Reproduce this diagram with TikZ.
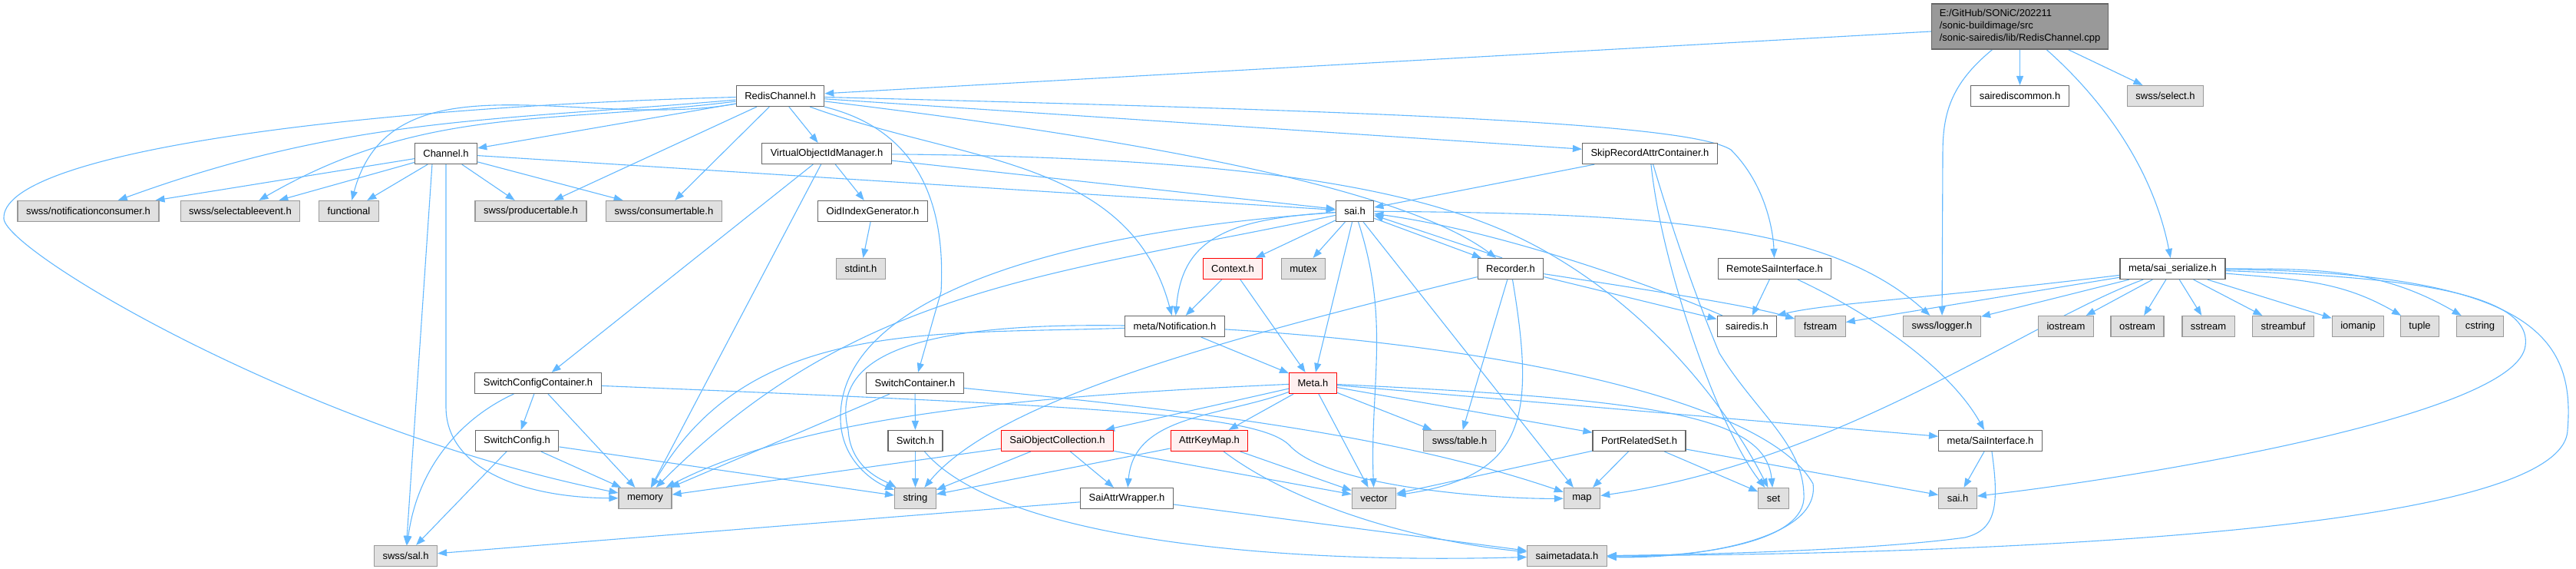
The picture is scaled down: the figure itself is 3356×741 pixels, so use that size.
\documentclass[tikz,border=0pt]{standalone}
\usepackage{fontspec}
\setmainfont{Liberation Sans}
\usepackage{tikz}
\usetikzlibrary{arrows.meta, backgrounds}
\definecolor{dxblue}{HTML}{63B8FF}
\definecolor{dxline}{HTML}{666666}
\definecolor{dxsys}{HTML}{E0E0E0}
\definecolor{dxsysline}{HTML}{999999}
\definecolor{dxroot}{HTML}{999999}
\definecolor{dxcut}{HTML}{FFF0F0}

\begin{document}
\begin{tikzpicture}[x=1pt, y=1pt, font=\fontsize{13}{16}\selectfont,
    hfile/.style={draw=dxline, fill=white, line width=1.2pt, inner xsep=11pt, inner ysep=0pt, minimum height=27pt},
    sysfile/.style={hfile, draw=dxsysline, fill=dxsys},
    cutfile/.style={hfile, draw=red, fill=dxcut},
    rootfile/.style={hfile, fill=dxroot, align=left, inner xsep=10pt, minimum height=59pt},
    incl/.style={draw=dxblue, line width=1.1pt, -{Triangle[length=12pt, width=9pt]}}]
  \useasboundingbox (0,0) rectangle (3356,-741);

  % rows, top to bottom
  \node[rootfile] (cpp) at (2631.5,-34.5) {E:/GitHub/SONiC/202211\\/sonic-buildimage/src\\/sonic-sairedis/lib/RedisChannel.cpp};
  \node[hfile] (rch) at (1016.5,-125) {RedisChannel.h};
  \node[hfile] (sdc) at (2631.5,-125) {sairediscommon.h};
  \node[sysfile] (sel) at (2821,-125) {swss/select.h};
  \node[hfile] (chn) at (581,-200) {Channel.h};
  \node[hfile] (voim) at (1077,-200) {VirtualObjectIdManager.h};
  \node[hfile] (skip) at (2149.5,-200) {SkipRecordAttrContainer.h};
  \node[sysfile] (nc) at (115,-275) {swss/notificationconsumer.h};
  \node[sysfile] (se) at (313,-275) {swss/selectableevent.h};
  \node[sysfile] (fun) at (454.5,-275) {functional};
  \node[sysfile] (pt) at (691.5,-275) {swss/producertable.h};
  \node[sysfile] (ct) at (865,-275) {swss/consumertable.h};
  \node[hfile] (oig) at (1137,-275) {OidIndexGenerator.h};
  \node[hfile] (sai) at (1765,-275) {sai.h};
  \node[sysfile] (stdint) at (1121.5,-350) {stdint.h};
  \node[cutfile] (ctx) at (1606,-350) {Context.h};
  \node[sysfile] (mtx) at (1698,-350) {mutex};
  \node[hfile] (rec) at (1968,-350) {Recorder.h};
  \node[hfile] (rsi) at (2312,-350) {RemoteSaiInterface.h};
  \node[hfile] (ser) at (2830.5,-350) {meta/sai\_serialize.h};
  \node[hfile] (ntf) at (1530.5,-425) {meta/Notification.h};
  \node[hfile] (srd) at (2276,-425) {sairedis.h};
  \node[sysfile] (fst) at (2371.5,-425) {fstream};
  \node[sysfile] (log) at (2530,-425) {swss/logger.h};
  \node[sysfile] (ios) at (2691.5,-425) {iostream};
  \node[sysfile] (ost) at (2784.5,-425) {ostream};
  \node[sysfile] (sst) at (2877,-425) {sstream};
  \node[sysfile] (sbf) at (2974.5,-425) {streambuf};
  \node[sysfile] (iom) at (3072,-425) {iomanip};
  \node[sysfile] (tup) at (3152.5,-425) {tuple};
  \node[sysfile] (cst) at (3231,-425) {cstring};
  \node[hfile] (scc) at (701,-499) {SwitchConfigContainer.h};
  \node[hfile] (swc) at (1192,-499) {SwitchContainer.h};
  \node[cutfile] (meta) at (1710.5,-499) {Meta.h};
  \node[hfile] (sw) at (673.5,-574) {SwitchConfig.h};
  \node[hfile] (swh) at (1192.5,-574) {Switch.h};
  \node[cutfile] (soc) at (1377.5,-574) {SaiObjectCollection.h};
  \node[cutfile] (akm) at (1575.5,-574) {AttrKeyMap.h};
  \node[sysfile] (tbl) at (1901.5,-574) {swss/table.h};
  \node[hfile] (prs) at (2135.5,-574) {PortRelatedSet.h};
  \node[hfile] (msi) at (2593,-574) {meta/SaiInterface.h};
  \node[sysfile] (mem) at (840.5,-649) {memory};
  \node[sysfile] (str) at (1192.5,-649) {string};
  \node[hfile] (saw) at (1468,-649) {SaiAttrWrapper.h};
  \node[sysfile] (vec) at (1790,-649) {vector};
  \node[sysfile] (map) at (2061,-649) {map};
  \node[sysfile] (set) at (2310.5,-649) {set};
  \node[sysfile] (saib) at (2550.5,-649) {sai.h};
  \node[sysfile] (ssai) at (528.5,-724) {swss/sal.h};
  \node[sysfile] (smd) at (2041.5,-724) {saimetadata.h};

  \begin{scope}[on background layer]
  % straight includes
  \foreach \a/\b in {cpp/rch, cpp/sdc, cpp/sel, rch/chn, rch/voim, rch/pt, rch/ct, rch/skip,
      chn/nc, chn/se, chn/fun, chn/pt, chn/ct, chn/sai, voim/scc, voim/mem, voim/oig, voim/sai,
      oig/stdint, skip/sai, sai/ctx, sai/mtx, sai/meta, sai/map, sai/rec, ctx/ntf, ctx/meta,
      rec/tbl, rec/srd, rsi/srd, ser/fst, ser/log, ser/ios, ser/ost, ser/sst, ser/sbf, ser/iom,
      ntf/meta, scc/sw, scc/mem, sw/mem, sw/ssai, sw/str, swc/swh, swc/mem, swh/str,
      meta/soc, meta/akm, meta/tbl, meta/prs, meta/vec, meta/msi, soc/str, soc/saw, soc/vec, soc/mem,
      akm/str, akm/vec, saw/ssai, saw/smd, prs/vec, prs/map, prs/set, prs/saib, msi/saib}
    \draw[incl] (\a) -- (\b);

  % routed includes
  \draw[incl] (cpp.220) .. controls (2540,-110) and (2531,-150) .. (2531,-200) -- (log);
  \draw[incl] (cpp.-41) .. controls (2740,-130) and (2805,-220) .. (ser);
  \draw[incl] (rch) to[out=185, in=20] (nc);
  \draw[incl] (rch) to[out=187, in=30] (se);
  \draw[incl] (rch) to[out=190, in=75] (fun);
  \draw[incl] (rch) .. controls (450,-140) and (0,-200) .. (5,-285) .. controls (10,-330) and (400,-560) .. (mem);
  \draw[incl] (rch) .. controls (1800,-145) and (2200,-160) .. (2255,-195) .. controls (2300,-240) and (2310,-300) .. (rsi);
  \draw[incl] (rch) to[out=-20, in=105] (ntf);
  \draw[incl] (rch) .. controls (1200,-170) and (1232,-270) .. (1226,-380) -- (swc);
  \draw[incl] (rch) .. controls (1600,-195) and (1850,-262) .. (rec);
  \draw[incl] (chn.218) -- (ssai);
  \draw[incl] (chn.south) -- (581,-530) .. controls (581,-610) and (680,-648) .. (mem);
  \draw[incl] (voim) .. controls (1600,-205) and (1850,-240) .. (2000,-320) .. controls (2150,-400) and (2250,-530) .. (set);
  \draw[incl] (skip) .. controls (2165,-350) and (2240,-560) .. (set);
  \draw[incl] (skip) .. controls (2185,-320) and (2215,-400) .. (2240,-460) .. controls (2290,-540) and (2352,-580) .. (2350,-650) .. controls (2345,-710) and (2200,-726) .. (smd);
  \draw[incl] (sai) .. controls (1600,-285) and (1540,-310) .. (ntf);
  \draw[incl] (sai) .. controls (1400,-300) and (1100,-380) .. (1095,-540) .. controls (1093,-600) and (1140,-628) .. (str);
  \draw[incl] (sai) to[out=192, in=45] (mem);
  \draw[incl] (sai) to[out=-72, in=92] (vec);
  \draw[incl] (sai) .. controls (2150,-278) and (2380,-290) .. (log);
  \draw[incl] (rec.128) -- (sai.-12);
  \draw[incl] (srd) .. controls (2150,-370) and (1950,-300) .. (sai);
  \draw[incl] (rec) .. controls (1600,-440) and (1300,-520) .. (str);
  \draw[incl] (rec.-80) .. controls (2000,-540) and (1990,-620) .. (vec);
  \draw[incl] (rec) .. controls (2150,-378) and (2280,-398) .. (fst);
  \draw[incl] (rsi) .. controls (2440,-410) and (2540,-480) .. (msi);
  \draw[incl] (ser) .. controls (2500,-390) and (2380,-395) .. (srd.20);
  \draw[incl] (ser) to[out=-5, in=150] (tup);
  \draw[incl] (ser) to[out=0, in=150] (cst);
  \draw[incl] (ser) .. controls (2640,-420) and (2400,-600) .. (map);
  \draw[incl] (ser) .. controls (3100,-360) and (3300,-375) .. (3290,-450) .. controls (3280,-540) and (2800,-620) .. (saib);
  \draw[incl] (ser) .. controls (3300,-355) and (3355,-440) .. (3345,-560) .. controls (3340,-700) and (2500,-722) .. (smd);
  \draw[incl] (ntf) to[out=182, in=60] (mem);
  \draw[incl] (ntf) .. controls (1200,-420) and (1080,-460) .. (1105,-560) .. controls (1108,-610) and (1150,-625) .. (str);
  \draw[incl] (ntf) .. controls (1950,-450) and (2300,-520) .. (2362,-630) .. controls (2372,-705) and (2200,-728) .. (smd);
  \draw[incl] (scc.204) .. controls (610,-540) and (545,-600) .. (ssai);
  \draw[incl] (scc) .. controls (1450,-530) and (1640,-540) .. (1680,-580) .. controls (1730,-635) and (1950,-650) .. (map);
  \draw[incl] (swc) .. controls (1500,-530) and (1800,-560) .. (map);
  \draw[incl] (swh) .. controls (1300,-700) and (1650,-735) .. (smd);
  \draw[incl] (meta) to[out=200, in=85] (saw);
  \draw[incl] (meta) .. controls (1350,-515) and (1050,-540) .. (mem);
  \draw[incl] (meta) .. controls (2150,-520) and (2300,-540) .. (set);
  \draw[incl] (akm) .. controls (1690,-660) and (1850,-705) .. (smd);
  \draw[incl] (msi) .. controls (2605,-660) and (2600,-690) .. (2560,-700) .. controls (2450,-715) and (2250,-722) .. (smd);
  \end{scope}
\end{tikzpicture}
\end{document}
